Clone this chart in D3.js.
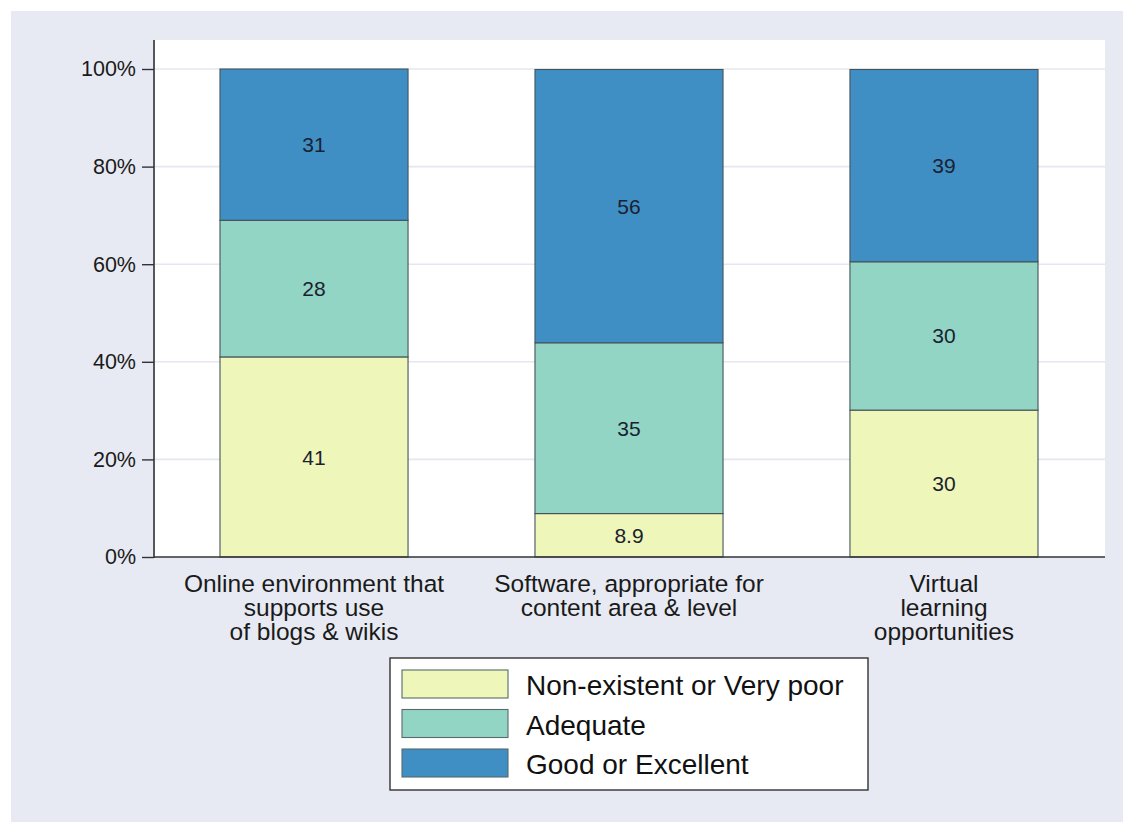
<!DOCTYPE html>
<html><head><meta charset="utf-8">
<script src="https://cdn.jsdelivr.net/npm/d3@7"></script>
<style>html,body{margin:0;padding:0;background:#fff;}svg{display:block;font-family:"Liberation Sans",Arial,sans-serif;}</style>
</head><body>
<script>
const categories = [
  ["Online environment that", "supports use", "of blogs & wikis"],
  ["Software, appropriate for", "content area & level"],
  ["Virtual", "learning", "opportunities"]
];
const seriesNames = ["Non-existent or Very poor", "Adequate", "Good or Excellent"];
const poorValues = [41, 8.9, 30.1];
const adequateValues = [28, 35.0, 30.4];
const goodValues = [31, 56.0, 39.4];
const yTicks = [0, 20, 40, 60, 80, 100];
const colors = ["#eef6b9", "#93d5c4", "#3f8fc5"];

const W = 1123, H = 822;
const svg = d3.select("body").append("svg").attr("width", W).attr("height", H);
svg.append("rect").attr("x", 11).attr("y", 11).attr("width", W - 11).attr("height", H - 11).attr("fill", "#e7eaf2");

const plot = {left: 155, right: 1105, top: 40, bottom: 557};
svg.append("rect").attr("x", plot.left).attr("y", plot.top)
  .attr("width", plot.right - plot.left).attr("height", plot.bottom - plot.top).attr("fill", "#ffffff");

const y = d3.scaleLinear().domain([0, 100]).range([557, 69]);
const x = d3.scaleBand().domain(d3.range(categories.length)).range([plot.left - 1, plot.right - 1]).paddingInner(0.403).paddingOuter(0.2095);

// gridlines
svg.append("g").selectAll("line").data(yTicks.filter(t => t > 0)).join("line")
  .attr("x1", plot.left).attr("x2", plot.right)
  .attr("y1", d => y(d)).attr("y2", d => y(d))
  .attr("stroke", "#e4e7ef").attr("stroke-width", 1.6);

// stacked bars
const rows = categories.map((c, i) => ({i, poor: poorValues[i], adequate: adequateValues[i], good: goodValues[i]}));
const stack = d3.stack().keys(["poor", "adequate", "good"]);
const layers = stack(rows);
const fmt = d3.format(".2");
const g = svg.append("g");
layers.forEach((layer, li) => {
  g.selectAll(null).data(layer).join("rect")
    .attr("x", d => x(d.data.i)).attr("width", x.bandwidth())
    .attr("y", d => y(d[1])).attr("height", d => y(d[0]) - y(d[1]))
    .attr("fill", colors[li]).attr("stroke", "#44545a").attr("stroke-width", 1.1);
});
layers.forEach((layer, li) => {
  g.selectAll(null).data(layer).join("text")
    .attr("x", d => x(d.data.i) + x.bandwidth() / 2)
    .attr("y", d => (y(d[0]) + y(d[1])) / 2)
    .attr("dy", "0.36em").attr("text-anchor", "middle")
    .attr("font-size", 21).attr("fill", "#1a2230")
    .text(d => fmt(d[1] - d[0]));
});

// y axis
const yAxis = d3.axisLeft(y).tickValues(yTicks).tickFormat(d => d + "%").tickSize(12).tickPadding(6);
const ya = svg.append("g").attr("transform", `translate(${plot.left - 1},0)`).call(yAxis);
ya.select(".domain").remove();
ya.selectAll(".tick line").attr("stroke", "#333").attr("stroke-width", 1.4);
ya.selectAll(".tick text").attr("font-size", 21.5).attr("fill", "#1a1a1a").attr("font-family", "Liberation Sans, Arial, sans-serif");
svg.append("line").attr("x1", plot.left - 1).attr("x2", plot.left - 1).attr("y1", plot.top).attr("y2", plot.bottom + 1)
  .attr("stroke", "#333").attr("stroke-width", 1.6);
svg.append("line").attr("x1", plot.left - 1).attr("x2", plot.right).attr("y1", plot.bottom).attr("y2", plot.bottom)
  .attr("stroke", "#333").attr("stroke-width", 1.6);

// x labels
categories.forEach((lines, i) => {
  const t = svg.append("text").attr("text-anchor", "middle").attr("font-size", 24.5).attr("fill", "#1a1a1a");
  lines.forEach((ln, k) => {
    t.append("tspan").attr("x", x(i) + x.bandwidth() / 2).attr("y", 591.5 + k * 24.3).text(ln);
  });
});

// legend
const lg = svg.append("g");
lg.append("rect").attr("x", 390).attr("y", 658).attr("width", 478).attr("height", 132)
  .attr("fill", "#fff").attr("stroke", "#333").attr("stroke-width", 1.4);
seriesNames.forEach((name, i) => {
  lg.append("rect").attr("x", 402).attr("y", 670 + i * 39.5).attr("width", 106).attr("height", 28)
    .attr("fill", colors[i]).attr("stroke", "#5a6a6a").attr("stroke-width", 1.1);
  lg.append("text").attr("x", 526).attr("y", 695 + i * 39.5).attr("font-size", 28).attr("fill", "#111").text(name);
});
</script>
</body></html>
